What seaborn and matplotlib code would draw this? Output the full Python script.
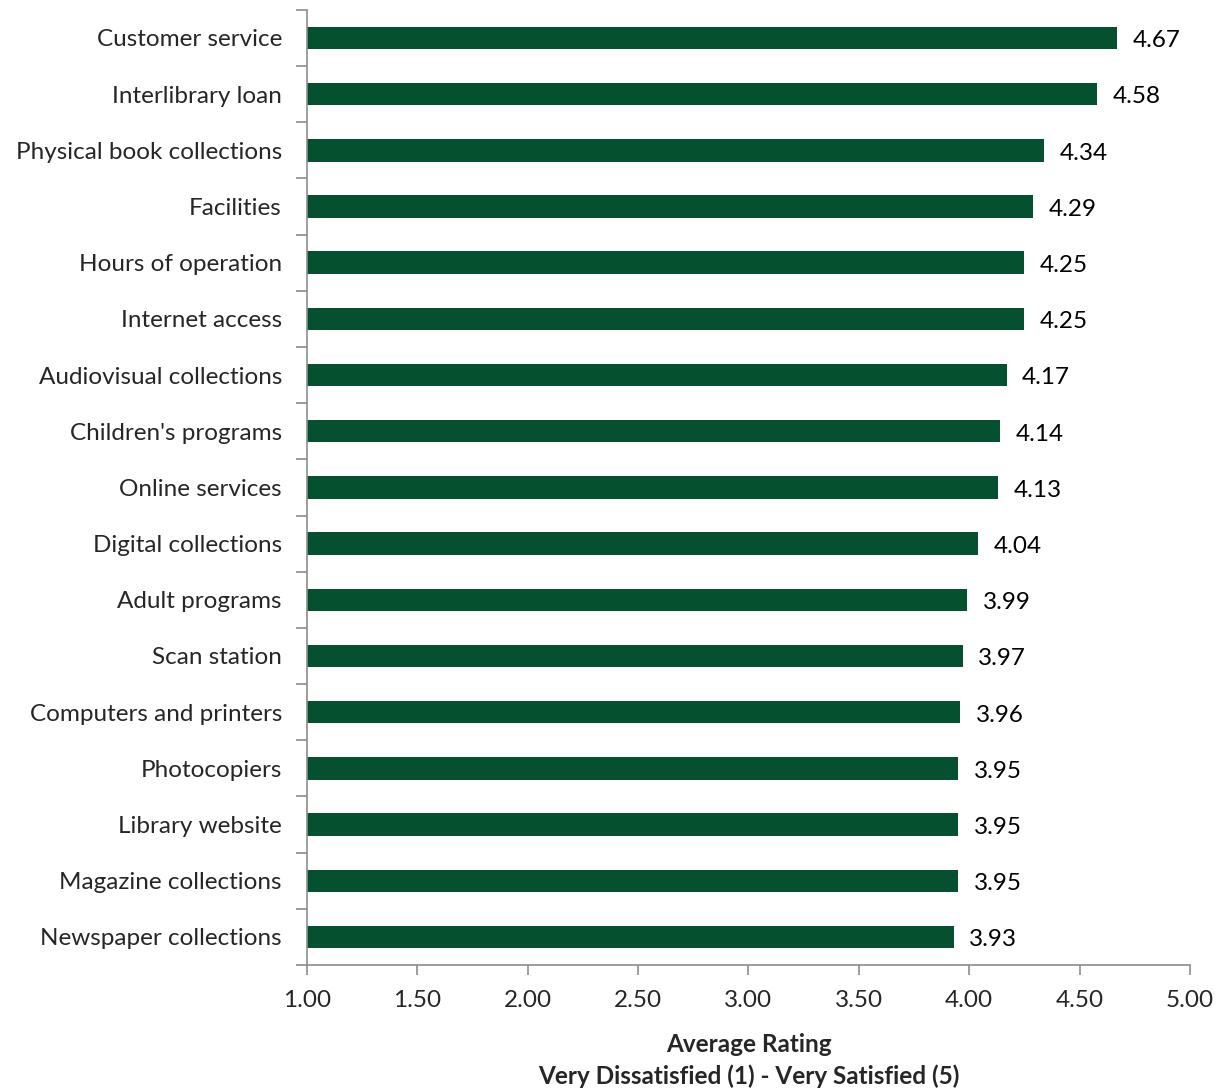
import matplotlib
matplotlib.use("Agg")
import matplotlib.pyplot as plt
import seaborn as sns
import pandas as pd
import numpy as np
from matplotlib.ticker import FixedLocator

categories = ["Customer service", "Interlibrary loan", "Physical book collections", "Facilities",
              "Hours of operation", "Internet access", "Audiovisual collections", "Children's programs",
              "Online services", "Digital collections", "Adult programs", "Scan station",
              "Computers and printers", "Photocopiers", "Library website", "Magazine collections",
              "Newspaper collections"]
ratings = [4.67, 4.58, 4.34, 4.29, 4.25, 4.25, 4.17, 4.14, 4.13, 4.04, 3.99, 3.97, 3.96, 3.95, 3.95, 3.95, 3.93]
x_ticks = [1.0, 1.5, 2.0, 2.5, 3.0, 3.5, 4.0, 4.5, 5.0]

sns.set_theme(style="white")
plt.rcParams['font.family'] = ['Lato', 'DejaVu Sans']

FS = 17.5
df = pd.DataFrame({"cat": categories, "val": ratings})
fig = plt.figure(figsize=(12.23, 10.88), dpi=100)
ax = fig.add_axes([0.251, 0.113, 0.722, 0.878])
sns.barplot(data=df, x="val", y="cat", orient="h", color="#04502F", saturation=1,
            width=0.4, ax=ax, edgecolor="none")

ax.set_xlim(1.0, 5.0)
ax.set_ylim(len(categories) - 0.5, -0.5)
ax.set_xticks(x_ticks)
ax.set_xticklabels([f"{t:.2f}" for t in x_ticks], fontsize=FS)
ax.set_yticks(range(len(categories)))
ax.set_yticklabels(categories, fontsize=FS)
ax.tick_params(bottom=True, left=True, which='both')
ax.tick_params(axis='y', which='major', length=0, pad=18)
ax.yaxis.set_minor_locator(FixedLocator(np.arange(-0.5, len(categories), 1)))
ax.tick_params(axis='y', which='minor', length=8, color="#8c8c8c", width=1.2, direction='out')
ax.tick_params(axis='x', which='major', length=7, color="#8c8c8c", width=1.2, direction='out', pad=11)

for s in ["top", "right"]:
    ax.spines[s].set_visible(False)
for s in ["left", "bottom"]:
    ax.spines[s].set_color("#8c8c8c")
    ax.spines[s].set_linewidth(1.2)

for i, v in enumerate(ratings):
    ax.text(v + 0.07, i + 0.05, f"{v:.2f}", va="center", ha="left", fontsize=FS, color="black")

ax.set_xlabel("Average Rating\nVery Dissatisfied (1) - Very Satisfied (5)", fontsize=FS,
              fontweight="bold", labelpad=16, linespacing=1.4)
ax.set_ylabel("")

fig.savefig("out.png", dpi=100)
